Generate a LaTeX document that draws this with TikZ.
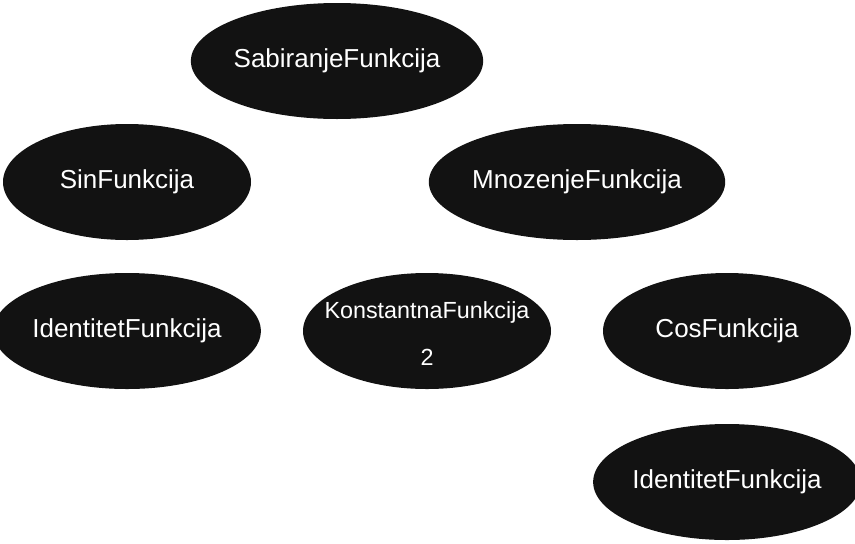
\documentclass[tikz,border=0pt]{standalone}
\usepackage{fontspec}
\setmainfont{Liberation Sans}
\usetikzlibrary{shapes.geometric}
\begin{document}
\begin{tikzpicture}[x=0.75pt,y=-0.75pt,
  ell/.style={ellipse,fill=black!93,minimum width=186pt,minimum height=87pt,inner sep=0pt,text=white,font=\fontsize{19.5}{22}\selectfont}]
\useasboundingbox (0,0) rectangle (855,543);
\node[ell] (sab) at (337,61) {SabiranjeFunkcija};
\node[ell] (sin) at (127,182) {SinFunkcija};
\node[ell] (mno) at (577,182) {MnozenjeFunkcija};
\node[ell] (id1) at (127,331) {IdentitetFunkcija};
\node[ell] (kon) at (427,331) {};
\node[text=white,font=\fontsize{17.5}{20}\selectfont] (kt) at (427,312) {KonstantnaFunkcija};
\node[text=white,font=\fontsize{17.5}{20}\selectfont] (k2) at (427,357) {2};
\node[ell] (cos) at (727,331) {CosFunkcija};
\node[ell] (id2) at (727,482) {IdentitetFunkcija};
\end{tikzpicture}
\end{document}
